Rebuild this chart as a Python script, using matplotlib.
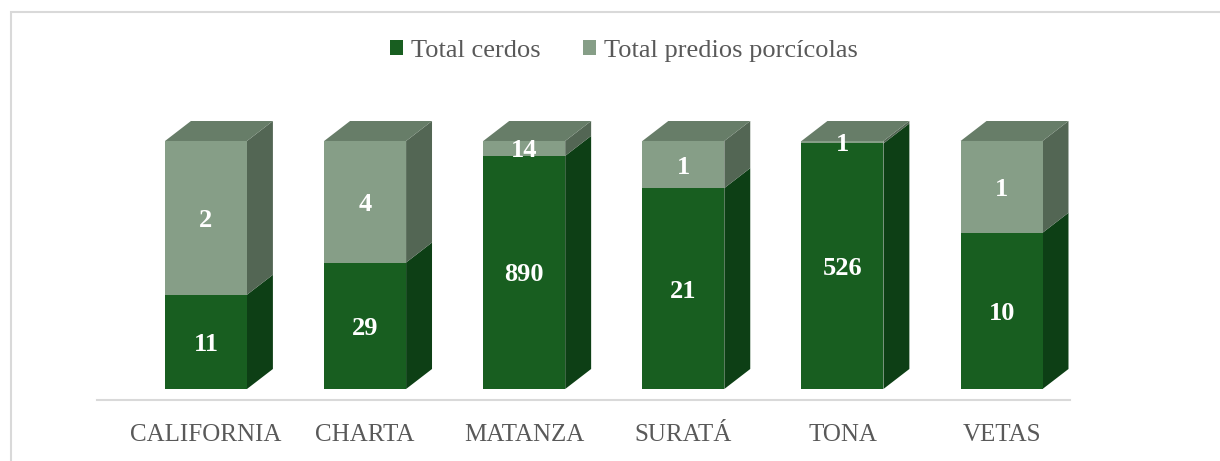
import matplotlib
matplotlib.use("Agg")
import matplotlib.pyplot as plt
from matplotlib.patches import Polygon, Patch, Rectangle

# Data
municipios = ["CALIFORNIA", "CHARTA", "MATANZA", "SURATÁ", "TONA", "VETAS"]
total_cerdos = [11, 29, 890, 21, 526, 10]
total_predios = [2, 4, 14, 1, 1, 1]
# share of the column height taken by each series (%)
pct_cerdos = [38, 51, 94, 81, 99, 63]
pct_predios = [62, 49, 6, 19, 1, 37]

# Colours
green_front, green_side = "#185E20", "#0D3F15"
grey_front, grey_side, grey_top = "#869E87", "#536654", "#677D68"

W, H = 1220, 461
fig = plt.figure(figsize=(W / 100, H / 100), dpi=100)

# outer border of the chart area
fig.patches.append(Rectangle((11 / W, -0.1), 1.2, 1.1 - 12 / H, transform=fig.transFigure,
                             fill=False, edgecolor="#D9D9D9", linewidth=1.5))

# axes placed in pixels: floor line at y=400, x from 97 to 1070
ax = fig.add_axes([97 / W, (H - 400) / H, (1070 - 97) / W, (400 - 121) / H])
ax.set_xlim(-0.685, 5.43)
ax.set_ylim(-4.44, 108.06)

width = 0.515
dx, dy = 0.163, 8.06
x = list(range(len(municipios)))

ax.bar(x, pct_cerdos, width=width, color=green_front, zorder=2)
ax.bar(x, pct_predios, width=width, bottom=pct_cerdos, color=grey_front, zorder=2)

for i in x:
    xr = i + width / 2
    xl = i - width / 2
    y0, y1 = 0, pct_cerdos[i]
    y2 = y1 + pct_predios[i]
    # right side faces
    ax.add_patch(Polygon([(xr, y0), (xr + dx, y0 + dy), (xr + dx, y1 + dy), (xr, y1)],
                         closed=True, facecolor=green_side, edgecolor="none", zorder=1))
    ax.add_patch(Polygon([(xr, y1), (xr + dx, y1 + dy), (xr + dx, y2 + dy), (xr, y2)],
                         closed=True, facecolor=grey_side, edgecolor="none", zorder=1))
    # top face
    ax.add_patch(Polygon([(xl, y2), (xl + dx, y2 + dy), (xr + dx, y2 + dy), (xr, y2)],
                         closed=True, facecolor=grey_top, edgecolor="none", zorder=1))

    # data labels
    lab = dict(ha="center", va="center_baseline", color="white", fontsize=19,
               fontweight="bold", family="Liberation Serif", zorder=5)
    ax.text(i, y1 / 2, str(total_cerdos[i]), **lab)
    ax.text(i, y1 + pct_predios[i] / 2, str(total_predios[i]), **lab)

# axis styling
for s in ["top", "right", "left"]:
    ax.spines[s].set_visible(False)
ax.spines["bottom"].set_color("#D9D9D9")
ax.spines["bottom"].set_linewidth(1.5)
ax.set_yticks([])
ax.set_xticks(x)
ax.set_xticklabels(municipios, family="Liberation Serif", fontsize=18, color="#595959")
ax.tick_params(axis="x", length=0, pad=17)

# legend
handles = [Patch(facecolor=green_front, label="Total cerdos"),
           Patch(facecolor=grey_front, label="Total predios porcícolas")]
fig.legend(handles=handles, loc="center", bbox_to_anchor=(624 / W, 1 - 51 / H), ncol=2,
           frameon=False, prop={"family": "Liberation Serif", "size": 19},
           labelcolor="#595959", handlelength=0.5, handleheight=0.5,
           handletextpad=0.3, columnspacing=1.6)

fig.savefig("out.png", dpi=100)
